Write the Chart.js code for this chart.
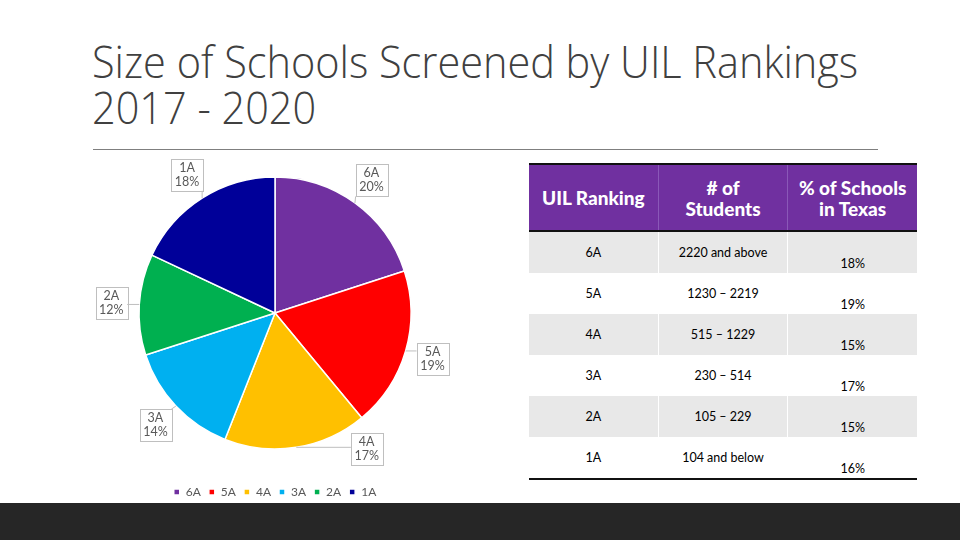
<!DOCTYPE html>
<html>
<head>
<meta charset="utf-8">
<script src="https://cdn.jsdelivr.net/npm/chart.js@4.4.1/dist/chart.umd.min.js"></script>
<style>
  html, body { margin: 0; padding: 0; background: #fff; }
  #slide { position: relative; width: 960px; height: 540px; overflow: hidden; background: #fff; }
  #title {
    position: absolute; left: 92px; top: 38px; margin: 0;
    font-family: "Open Sans", sans-serif; font-weight: 300;
    font-size: 44px; line-height: 46px; color: #404040; white-space: nowrap;
    transform: scaleX(0.942); transform-origin: left top;
  }
  #rule { position: absolute; left: 93px; top: 149px; width: 785px; height: 1px; background: #7f7f7f; }
  #pieBox { position: absolute; left: 90px; top: 148px; width: 370px; height: 360px; }
  #footer { position: absolute; left: 0; top: 503px; width: 960px; height: 37px; background: #262626; }
  table {
    position: absolute; left: 529px; top: 163px; width: 388px;
    border-collapse: collapse; font-family: Lato, "Open Sans", sans-serif; color: #000;
    border-top: 2px solid #111; border-bottom: 2px solid #111;
  }
  th {
    background: #7030a0; color: #fff; font-weight: 900; font-size: 19px; line-height: 21px;
    height: 65px; padding: 0; border-bottom: 2px solid #111; border-left: 1px solid #8a58b8;
  }
  th:first-child { border-left: none; }
  td { width: 129px; height: 41px; padding: 0; font-size: 12.5px; text-align: center; border-left: 1px solid #fff; }
  td:first-child { border-left: none; }
  tr.shade td { background: #e8e8e8; }
  td.top { vertical-align: top; padding-top: 13px; height: 28px; }
  td.low { vertical-align: bottom; padding-bottom: 2px; height: 39px; }
</style>
</head>
<body>
<div id="slide">
  <h1 id="title">Size of Schools Screened by UIL Rankings<br>2017 - 2020</h1>
  <div id="rule"></div>
  <div id="pieBox"><canvas id="pie"></canvas></div>
  <table id="uil"></table>
  <div id="footer"></div>
</div>
<script>
const tiers = ['6A', '5A', '4A', '3A', '2A', '1A'];
const screenedPct = [20, 19, 17, 14, 12, 18];
const studentRanges = ['2220 and above', '1230 – 2219', '515 – 1229', '230 – 514', '105 – 229', '104 and below'];
const texasPct = [18, 19, 15, 17, 15, 16];
const headers = ['UIL Ranking', '# of<br>Students', '% of Schools<br>in Texas'];

const palette = ['#7030a0', '#ff0000', '#ffc000', '#00b0f0', '#00b050', '#000099'];

// table on the right
const table = document.getElementById('uil');
let html = '<tr>' + headers.map(h => '<th>' + h + '</th>').join('') + '</tr>';
tiers.forEach((t, i) => {
  html += '<tr class="' + (i % 2 === 0 ? 'shade' : '') + '">' +
    '<td class="top">' + t + '</td>' +
    '<td class="top">' + studentRanges[i] + '</td>' +
    '<td class="low">' + texasPct[i] + '%</td></tr>';
});
table.innerHTML = html;

// boxed callout labels with short leader lines
const callouts = {
  id: 'callouts',
  afterDatasetsDraw(chart, args, opts) {
    const ctx = chart.ctx;
    const meta = chart.getDatasetMeta(0);
    const total = chart.data.datasets[0].data.reduce((a, b) => a + b, 0);
    ctx.save();
    ctx.font = '12.5px Lato, "Open Sans", sans-serif';
    ctx.textAlign = 'center';
    ctx.textBaseline = 'middle';
    meta.data.forEach((arc, i) => {
      const p = arc.getProps(['x', 'y', 'startAngle', 'endAngle', 'outerRadius'], true);
      const mid = (p.startAngle + p.endAngle) / 2;
      const ang = mid + (opts.nudge[i] || 0) * Math.PI / 180;
      const d = p.outerRadius + opts.offset;
      const cx = p.x + Math.cos(ang) * d;
      const cy = p.y + Math.sin(ang) * d;
      const value = chart.data.datasets[0].data[i];
      const lines = [chart.data.labels[i], Math.round(value / total * 100) + '%'];
      const w = Math.max(...lines.map(l => ctx.measureText(l).width)) + 7;
      const h = 32;
      const bx = cx - w / 2, by = cy - h / 2;
      // leader
      const ax = p.x + Math.cos(mid) * p.outerRadius;
      const ay = p.y + Math.sin(mid) * p.outerRadius;
      const nx = Math.min(Math.max(ax, bx), bx + w);
      const ny = Math.min(Math.max(ay, by), by + h);
      ctx.strokeStyle = '#bfbfbf';
      ctx.lineWidth = 1;
      if (Math.hypot(nx - ax, ny - ay) > 2) {
        ctx.beginPath();
        ctx.moveTo(ax, ay);
        ctx.lineTo(nx, ny);
        ctx.stroke();
      }
      ctx.fillStyle = '#fff';
      ctx.fillRect(bx, by, w, h);
      ctx.strokeRect(Math.round(bx) + 0.5, Math.round(by) + 0.5, Math.round(w), h);
      ctx.fillStyle = '#595959';
      ctx.fillText(lines[0], cx, cy - 7);
      ctx.fillText(lines[1], cx, cy + 7);
    });
    ctx.restore();
  }
};

new Chart(document.getElementById('pie'), {
  type: 'pie',
  data: {
    labels: tiers,
    datasets: [{
      data: screenedPct,
      backgroundColor: palette,
      borderColor: '#fff',
      borderWidth: 1.5,
      radius: 136
    }]
  },
  options: {
    responsive: true,
    maintainAspectRatio: false,
    animation: false,
    layout: { padding: 0 },
    plugins: {
      tooltip: { enabled: false },
      legend: {
        position: 'bottom',
        labels: {
          boxWidth: 6, boxHeight: 6, padding: 8,
          color: '#595959',
          font: { family: 'Lato, "Open Sans", sans-serif', size: 12 }
        }
      },
      callouts: { offset: 28, nudge: { 2: -25 } }
    }
  },
  plugins: [callouts]
});
</script>
</body>
</html>
